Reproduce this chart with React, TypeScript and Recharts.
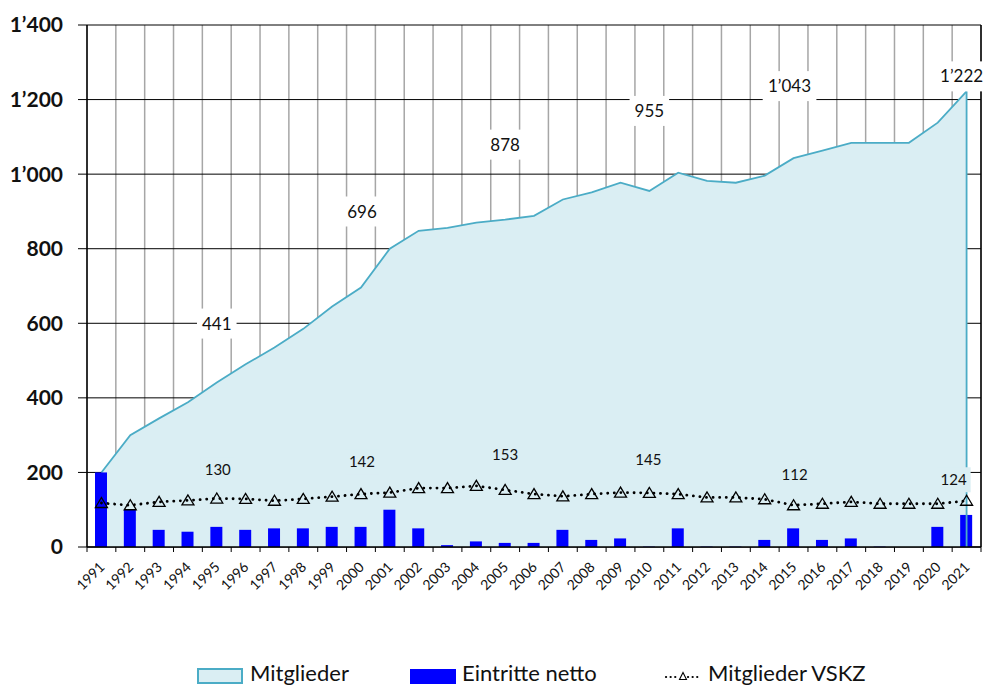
import { ComposedChart, Area, Bar, Line, XAxis, YAxis, CartesianGrid, ReferenceLine, LabelList } from "recharts";

const years = [
  1991, 1992, 1993, 1994, 1995, 1996, 1997, 1998, 1999, 2000, 2001, 2002, 2003, 2004, 2005, 2006,
  2007, 2008, 2009, 2010, 2011, 2012, 2013, 2014, 2015, 2016, 2017, 2018, 2019, 2020, 2021,
];

const mitglieder = [
  200, 300, 345, 388, 441, 490, 535, 585, 645, 696, 800, 848, 856, 870, 878, 888,
  932, 951, 977, 955, 1004, 982, 977, 996, 1043, 1063, 1084, 1084, 1084, 1138, 1222,
];

const eintritte = [
  200, 100, 46, 41, 54, 46, 50, 50, 54, 54, 100, 50, 5, 15, 11, 11,
  46, 19, 23, 1, 50, 1, 1, 19, 50, 19, 23, 1, 0, 54, 86,
];

const vskz = [
  118, 112, 121, 125, 130, 129, 124, 129, 135, 142, 146, 158, 158, 164, 153, 142,
  136, 142, 146, 145, 142, 133, 133, 128, 112, 116, 121, 116, 116, 116, 124,
];

const labelYears = [1995, 2000, 2005, 2010, 2015, 2021];
const yTicks = [0, 200, 400, 600, 800, 1000, 1200, 1400];

const data = years.map((year, i) => ({
  year,
  mitglieder: mitglieder[i],
  eintritte: eintritte[i],
  vskz: vskz[i],
}));

// category edges, used for the gray grid and the bottom tick marks
const edges = [...years.map((y) => y - 0.5), years[years.length - 1] + 0.5];
const xDomain = [edges[0], edges[edges.length - 1]];

// hand-placed label offsets (px), as in the original sheet
const memberShift: Record<number, [number, number]> = {
  1995: [0, -59], 2000: [1, -76], 2005: [0, -75], 2010: [0, -80], 2015: [-4, -72], 2021: [-5, -15],
};
const vskzShift: Record<number, [number, number]> = {
  1995: [1, -29], 2000: [1, -32], 2005: [0, -35], 2010: [-1, -33], 2015: [1, -31], 2021: [-13, -21],
};

const FONT = "Lato, 'Open Sans', sans-serif";
const AREA_FILL = "#daeef3";
const AREA_LINE = "#4bacc6";

const fmt = (v: number) => String(v).replace(/\B(?=(\d{3})+(?!\d))/g, "’");

const textWidth = (s: string, size: number) =>
  s.split("").reduce((w, c) => w + (c === "’" ? size * 0.25 : size * 0.58), 0);

const MemberLabel = (props: any) => {
  const { x, y, value, index } = props;
  const year = years[index];
  if (!labelYears.includes(year)) return null;
  const [dx, dy] = memberShift[year];
  const s = fmt(value);
  const w = textWidth(s, 17) + 10;
  const cx = x + dx;
  const cy = y + dy;
  return (
    <g>
      <rect x={cx - w / 2} y={cy - 15} width={w} height={30} fill="#fff" />
      <text x={cx} y={cy} dy="0.36em" textAnchor="middle" fontSize={17} fontFamily={FONT} fill="#111">
        {s}
      </text>
    </g>
  );
};

const VskzLabel = (props: any) => {
  const { x, y, value, index } = props;
  const year = years[index];
  if (!labelYears.includes(year)) return null;
  const [dx, dy] = vskzShift[year];
  const s = fmt(value);
  const w = textWidth(s, 15) + 8;
  const cx = x + dx;
  const cy = y + dy;
  return (
    <g>
      <rect x={cx - w / 2} y={cy - 12.5} width={w} height={25} fill={AREA_FILL} />
      <text x={cx} y={cy} dy="0.36em" textAnchor="middle" fontSize={15} fontFamily={FONT} fill="#111">
        {s}
      </text>
    </g>
  );
};

const Triangle = (props: any) => {
  const { cx, cy, index } = props;
  if (cx == null || cy == null) return null;
  return (
    <path
      key={index}
      d={`M${cx},${cy - 5.5} L${cx - 6},${cy + 4.5} L${cx + 6},${cy + 4.5} Z`}
      fill="none"
      stroke="#000"
      strokeWidth={1.3}
    />
  );
};

const YearTick = (props: any) => {
  const { x, y, payload } = props;
  const px = x + 4;
  const py = y + 12;
  return (
    <text
      x={px}
      y={py}
      textAnchor="end"
      fontSize={14}
      fontFamily={FONT}
      fill="#111"
      transform={`rotate(-45 ${px} ${py})`}
    >
      {payload.value}
    </text>
  );
};

const NoTick = () => <g />;

const legendText = { position: "absolute" as const, top: 660, fontSize: 22, fontFamily: FONT, color: "#111", lineHeight: "26px" };

const App = () => (
  <div style={{ position: "absolute", left: 0, top: 0, width: 987, height: 686, overflow: "hidden", background: "#fff" }}>
    <ComposedChart width={987} height={686} data={data} margin={{ top: 25, right: 6, bottom: 0, left: 0 }}>
      <CartesianGrid xAxisId="edge" horizontal={false} stroke="#a6a6a6" strokeWidth={1.5} />
      <CartesianGrid xAxisId="edge" vertical={false} stroke="#000" />
      <XAxis
        xAxisId="edge"
        type="number"
        dataKey="year"
        domain={xDomain}
        ticks={edges}
        interval={0}
        height={1}
        tickSize={5}
        tick={NoTick}
        tickLine={{ stroke: "#000" }}
        axisLine={{ stroke: "#000", strokeWidth: 1.5 }}
      />
      <XAxis
        xAxisId="main"
        type="number"
        dataKey="year"
        domain={xDomain}
        ticks={years}
        interval={0}
        height={138}
        tickLine={false}
        axisLine={false}
        tick={YearTick}
      />
      <YAxis
        width={87}
        domain={[0, 1400]}
        ticks={yTicks}
        interval={0}
        tickFormatter={fmt}
        tickSize={9}
        tickMargin={15}
        tick={{ fontSize: 21, fontWeight: 700, fontFamily: FONT, fill: "#111" }}
        tickLine={{ stroke: "#000" }}
        axisLine={{ stroke: "#000", strokeWidth: 1.5 }}
      />
      <ReferenceLine xAxisId="edge" x={xDomain[1]} stroke="#000" strokeWidth={1.5} />
      <Area
        xAxisId="main"
        type="linear"
        dataKey="mitglieder"
        fill={AREA_FILL}
        fillOpacity={1}
        stroke={AREA_LINE}
        strokeWidth={1.8}
        isAnimationActive={false}
      />
      <ReferenceLine
        xAxisId="main"
        segment={[
          { x: years[years.length - 1], y: 0 },
          { x: years[years.length - 1], y: mitglieder[mitglieder.length - 1] },
        ]}
        stroke={AREA_LINE}
        strokeWidth={1.8}
      />
      <Bar xAxisId="main" dataKey="eintritte" fill="#0000ff" barSize={12} isAnimationActive={false} />
      <Line
        xAxisId="main"
        type="linear"
        dataKey="vskz"
        stroke="#000"
        strokeWidth={2.8}
        strokeDasharray="0.1 6.5"
        strokeLinecap="round"
        dot={Triangle}
        activeDot={false}
        isAnimationActive={false}
      >
        <LabelList dataKey="vskz" content={VskzLabel} />
      </Line>
      <Area
        xAxisId="main"
        type="linear"
        dataKey="mitglieder"
        fill="none"
        stroke="none"
        isAnimationActive={false}
      >
        <LabelList dataKey="mitglieder" content={MemberLabel} />
      </Area>
    </ComposedChart>

    <div style={{ position: "absolute", left: 197, top: 668, width: 42, height: 12, background: AREA_FILL, border: `2px solid ${AREA_LINE}` }} />
    <div style={{ ...legendText, left: 250 }}>Mitglieder</div>
    <div style={{ position: "absolute", left: 410, top: 669, width: 46, height: 15, background: "#0000ff" }} />
    <div style={{ ...legendText, left: 462 }}>Eintritte netto</div>
    <svg style={{ position: "absolute", left: 663, top: 664 }} width={40} height={22}>
      <line x1={3} y1={13} x2={15} y2={13} stroke="#000" strokeWidth={2.2} strokeDasharray="0.1 4.5" strokeLinecap="round" />
      <line x1={25} y1={13} x2={37} y2={13} stroke="#000" strokeWidth={2.2} strokeDasharray="0.1 4.5" strokeLinecap="round" />
      <path d="M20,8.5 L16.5,15.5 L23.5,15.5 Z" fill="#fff" stroke="#000" strokeWidth={1.1} />
    </svg>
    <div style={{ ...legendText, left: 708 }}>Mitglieder VSKZ</div>
  </div>
);

export default App;
